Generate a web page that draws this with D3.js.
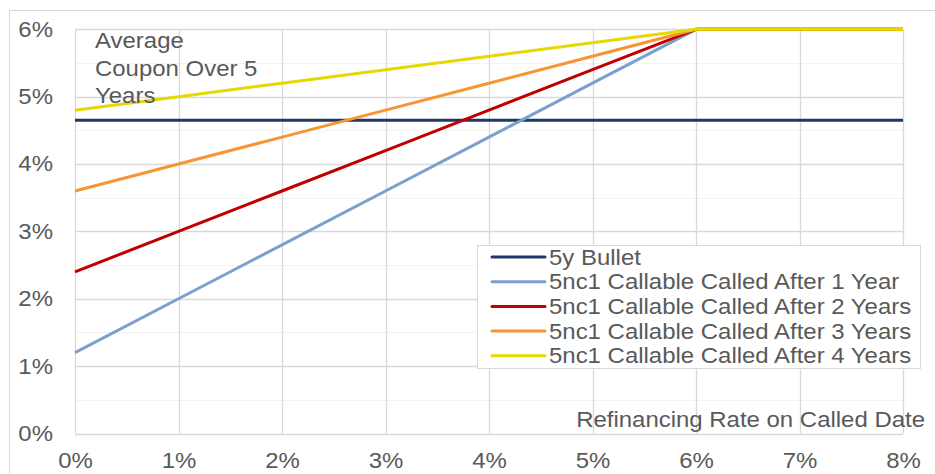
<!DOCTYPE html>
<html><head><meta charset="utf-8">
<script src="https://cdn.jsdelivr.net/npm/d3@7"></script>
<style>body{margin:0;background:#fff}svg{display:block;font-family:"Liberation Sans",Arial,sans-serif}</style>
</head><body><svg id="c" width="935" height="474"></svg>
<script>
const refiRates = [0,1,2,3,4,5,6,7,8];
const bullet    = [4.65,4.65,4.65,4.65,4.65,4.65,4.65,4.65,4.65];
const called1   = [1.2,2.0,2.8,3.6,4.4,5.2,6.0,6.0,6.0];
const called2   = [2.4,3.0,3.6,4.2,4.8,5.4,6.0,6.0,6.0];
const called3   = [3.6,4.0,4.4,4.8,5.2,5.6,6.0,6.0,6.0];
const called4   = [4.8,5.0,5.2,5.4,5.6,5.8,6.0,6.0,6.0];
const seriesNames = ["5y Bullet","5nc1 Callable Called After 1 Year","5nc1 Callable Called After 2 Years","5nc1 Callable Called After 3 Years","5nc1 Callable Called After 4 Years"];
const seriesColors = ["#1f3864","#7ba0cd","#c00000","#f79433","#e6d800"];
const xTicks = [0,1,2,3,4,5,6,7,8];
const yTicks = [0,1,2,3,4,5,6];
const yMinor = [0.5,1.5,2.5,3.5,4.5,5.5];

const FS = 21.5, SX = 1.115;
const svg = d3.select("#c");
const x = d3.scaleLinear().domain([0,8]).range([75,903]);
const y = d3.scaleLinear().domain([0,6]).range([433.5,29.3]);
const textCol = "#595959";

function label(parent, tx, ty, str, anchor, dy){
  const g = parent.append("g").attr("transform",`translate(${tx},${ty}) scale(${SX},1)`);
  return g.append("text").attr("text-anchor",anchor||"start").attr("dy",dy||0)
    .attr("fill",textCol).attr("font-size",FS).text(str);
}

// outer frame
svg.append("rect").attr("x",9.5).attr("y",10.5).attr("width",1000).attr("height",1000)
  .attr("fill","none").attr("stroke","#d9d9d9").attr("stroke-width",1);

// minor horizontal gridlines
svg.append("g").selectAll("line").data(yMinor).join("line")
  .attr("x1",x(0)).attr("x2",x(8)).attr("y1",d=>Math.round(y(d))+0.5).attr("y2",d=>Math.round(y(d))+0.5)
  .attr("stroke","#f2f2f2").attr("stroke-width",1);
// major horizontal gridlines
svg.append("g").selectAll("line").data(yTicks).join("line")
  .attr("x1",x(0)).attr("x2",x(8)).attr("y1",d=>Math.round(y(d))+0.5).attr("y2",d=>Math.round(y(d))+0.5)
  .attr("stroke","#d9d9d9").attr("stroke-width",1.3);
// vertical gridlines
svg.append("g").selectAll("line").data(xTicks).join("line")
  .attr("x1",d=>Math.round(x(d))+0.5).attr("x2",d=>Math.round(x(d))+0.5).attr("y1",y(6)).attr("y2",y(0))
  .attr("stroke","#d9d9d9").attr("stroke-width",1.3);

// axes labels via d3 axes
const xAxis = svg.append("g").attr("transform",`translate(0,${y(0)})`)
  .call(d3.axisBottom(x).tickValues(xTicks).tickFormat(d=>d+"%").tickSize(0).tickPadding(19));
xAxis.select(".domain").remove();
xAxis.selectAll("text").attr("fill",textCol).attr("font-size",FS).attr("font-family","Liberation Sans, Arial, sans-serif")
  .attr("transform",`scale(${SX},1)`);

const yAxis = svg.append("g").attr("transform",`translate(53,0)`)
  .call(d3.axisLeft(y).tickValues(yTicks).tickFormat(d=>d+"%").tickSize(0).tickPadding(0));
yAxis.select(".domain").remove();
yAxis.selectAll("text").attr("fill",textCol).attr("font-size",FS).attr("font-family","Liberation Sans, Arial, sans-serif")
  .attr("transform",`scale(${SX},1)`);

// lines
const allSeries = [bullet,called1,called2,called3,called4];
const line = d3.line().x((d,i)=>x(refiRates[i])).y(d=>y(d));
svg.append("g").selectAll("path").data(allSeries).join("path")
  .attr("d",d=>line(d)).attr("fill","none")
  .attr("stroke",(d,i)=>seriesColors[i]).attr("stroke-width",3).attr("stroke-linejoin","round");

// annotation
["Average","Coupon Over 5","Years"].forEach((t,i)=>{
  label(svg, 95, 48+i*27.5, t);
});
label(svg, 925, 427, "Refinancing Rate on Called Date", "end");

// legend
const lg = svg.append("g");
lg.append("rect").attr("x",477.5).attr("y",245.5).attr("width",443).attr("height",123)
  .attr("fill","#fff").attr("stroke","#d9d9d9").attr("stroke-width",1);
seriesNames.forEach((n,i)=>{
  const cy = 257 + i*24.7;
  lg.append("line").attr("x1",492).attr("x2",545).attr("y1",cy).attr("y2",cy)
    .attr("stroke",seriesColors[i]).attr("stroke-width",3).attr("stroke-linecap","round");
  label(lg, 549, cy, n, "start", "0.35em");
});
</script></body></html>
